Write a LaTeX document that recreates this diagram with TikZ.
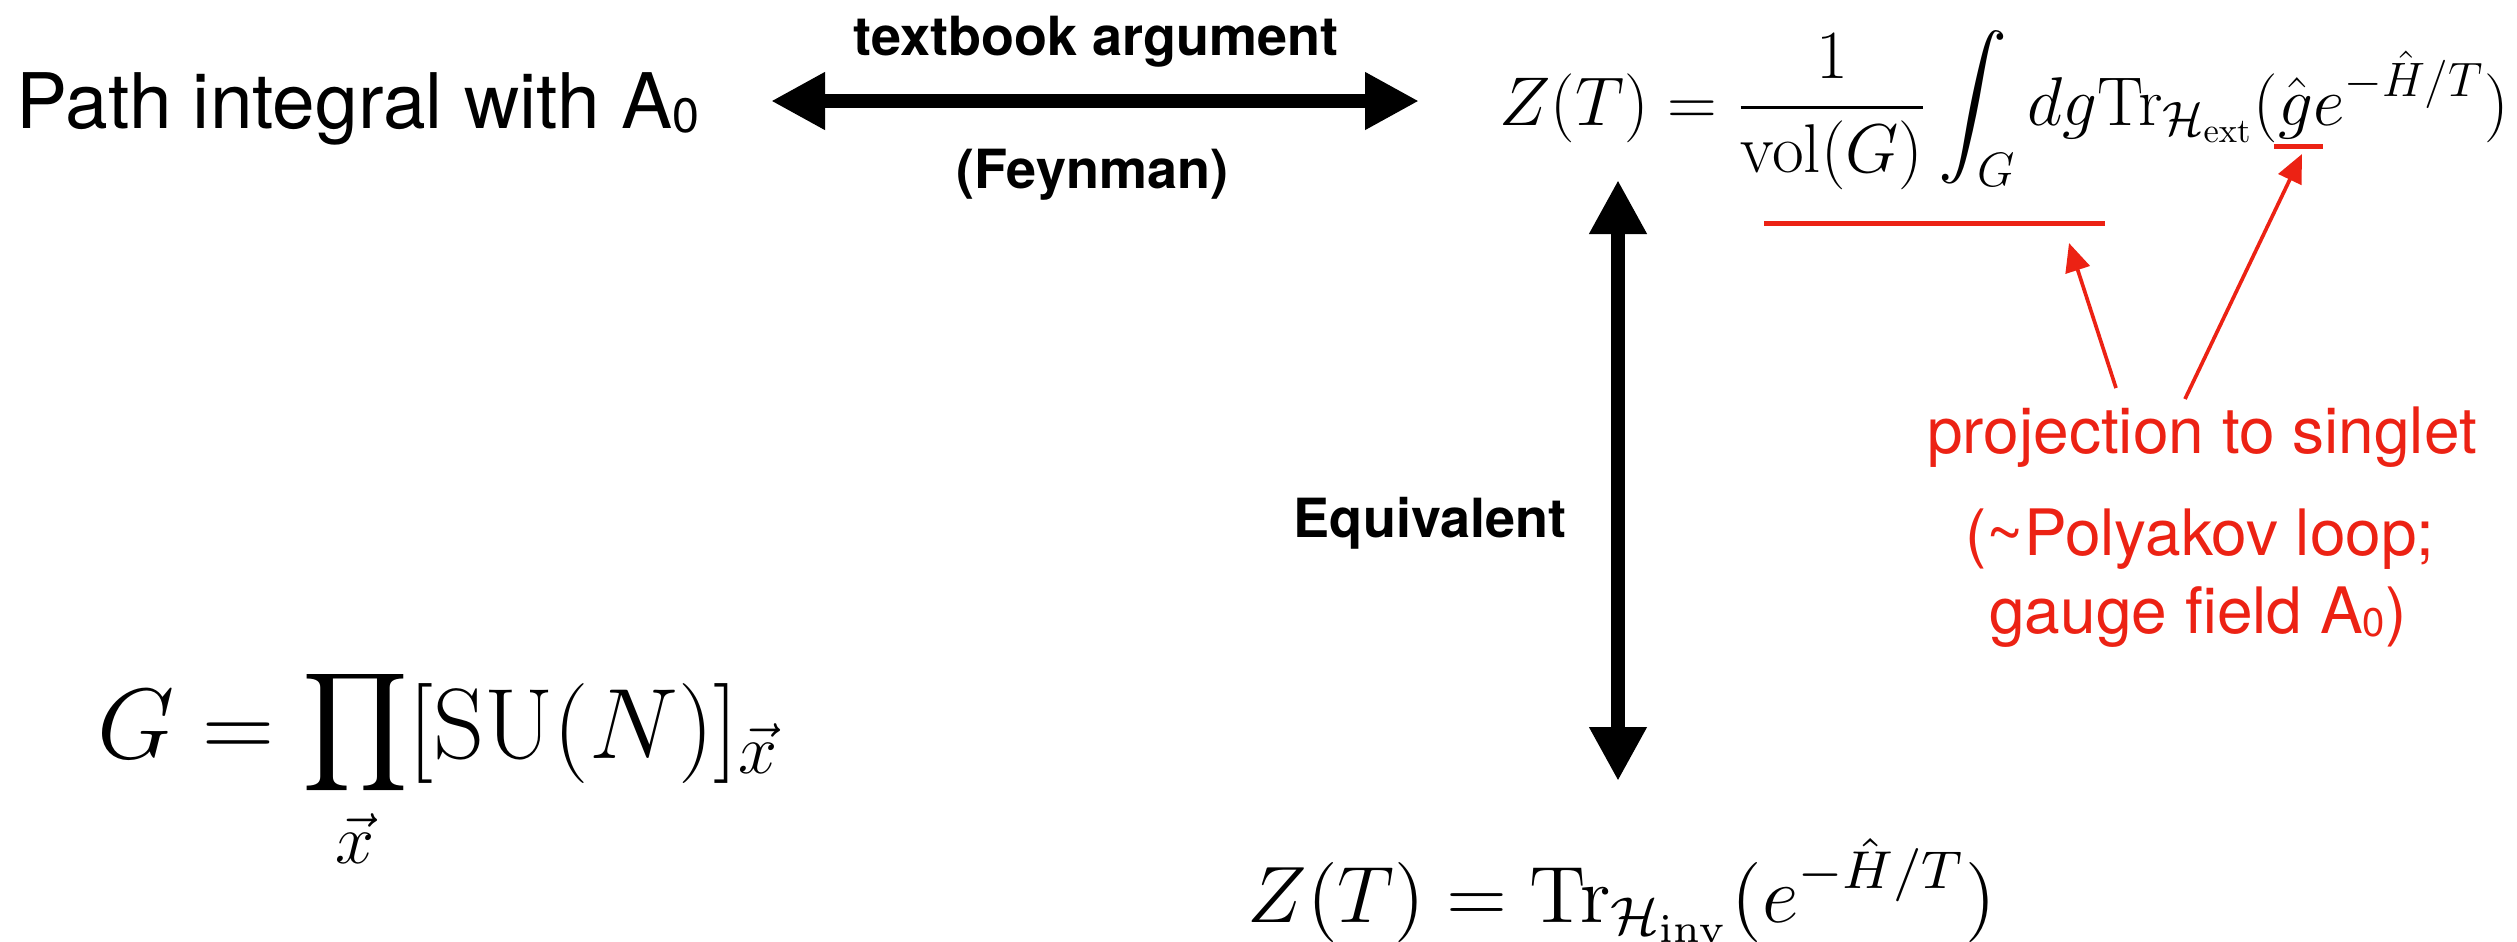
\RequirePackage{fix-cm}
\documentclass[tikz,border=0pt]{standalone}
\usepackage[no-math]{fontspec}
\usepackage{amsmath}
\usepackage{graphicx}
\newfontfamily\hv{TeX Gyre Heros}
\usetikzlibrary{arrows.meta}
\definecolor{redc}{RGB}{236,34,20}
\begin{document}
\begin{tikzpicture}[x=0.3pt,y=-0.3pt,
  bigtext/.style={font=\hv\fontsize{23}{27}\selectfont, inner sep=0, anchor=base west},
  lbl/.style={font=\hv\bfseries\fontsize{16.2}{19}\selectfont, inner sep=0, anchor=base},
  redtext/.style={font=\hv\fontsize{19.2}{22}\selectfont, text=redc, inner sep=0, anchor=base},
  eq/.style={inner sep=0, anchor=base west},
  dbl/.style={line width=4.2pt, {Triangle[length=16.2pt,width=16.2pt]}-{Triangle[length=16.2pt,width=16.2pt]}},
  redarrow/.style={redc, line width=1.1pt, -{Triangle[length=8.5pt,width=7.5pt]}},
  redbar/.style={redc, line width=1.5pt}
]
\useasboundingbox (0,0) rectangle (2517,941);

% left text
\node[bigtext] (path) at (16,128) {Path integral with A\raisebox{-1.2pt}{\fontsize{14.5}{14.5}\selectfont 0}};

% top equation
\node[eq] (ztop) at (1499,125) {\fontsize{20.7}{25}\selectfont $\displaystyle Z(T)=\frac{1}{\mathrm{vol}(G)}\int_G dg\mathrm{Tr}_{\mathcal{H}_{\mathrm{ext}}}(\hat g e^{-\hat H/T})$};

% bottom equation
\node[eq] (zbot) at (1247,922) {\scalebox{2.0}{\fontsize{12}{14}\selectfont$\displaystyle Z(T)=\mathrm{Tr}_{\mathcal{H}_{\mathrm{inv}}}(e^{-\hat H/T})$}};

% G equation
\node[eq] (geq) at (97,758) {\fontsize{30}{36}\selectfont $\displaystyle G=\prod_{\vec x}[\mathrm{SU}(N)]_{\vec x}$};

% labels
\node[lbl] (tb) at (1096,55) {textbook argument};
\node[lbl] (fey) at (1092,188) {(Feynman)};
\node[lbl] (equiv) at (1430,537) {Equivalent};

% arrows
\coordinate (hl) at (771,101);
\coordinate (hr) at (1419,101);
\draw[dbl] (hl) -- (hr);
\coordinate (vt) at (1618,180);
\coordinate (vb) at (1618,781);
\draw[dbl] (vt) -- (vb);

% red annotations
\coordinate (barA) at (1764,223);
\coordinate (barB) at (2105,223);
\draw[redbar] (barA) -- (barB);
\coordinate (ulA) at (2274,146);
\coordinate (ulB) at (2323,146);
\draw[redbar] (ulA) -- (ulB);

\node[redtext] (proj) at (2202,453) {projection to singlet};
\node[redtext] (poly) at (2200,555) {(\char`\~Polyakov loop;};
\node[redtext] (gauge) at (2198,633) {gauge field A\raisebox{-1pt}{\fontsize{12}{12}\selectfont 0})};

\coordinate (t1) at (2116,388);
\coordinate (h1) at (2069,243);
\coordinate (t2) at (2185,399);
\coordinate (h2) at (2302,154);
\draw[redarrow] (t1) -- (h1);
\draw[redarrow] (t2) -- (h2);
\end{tikzpicture}
\end{document}
